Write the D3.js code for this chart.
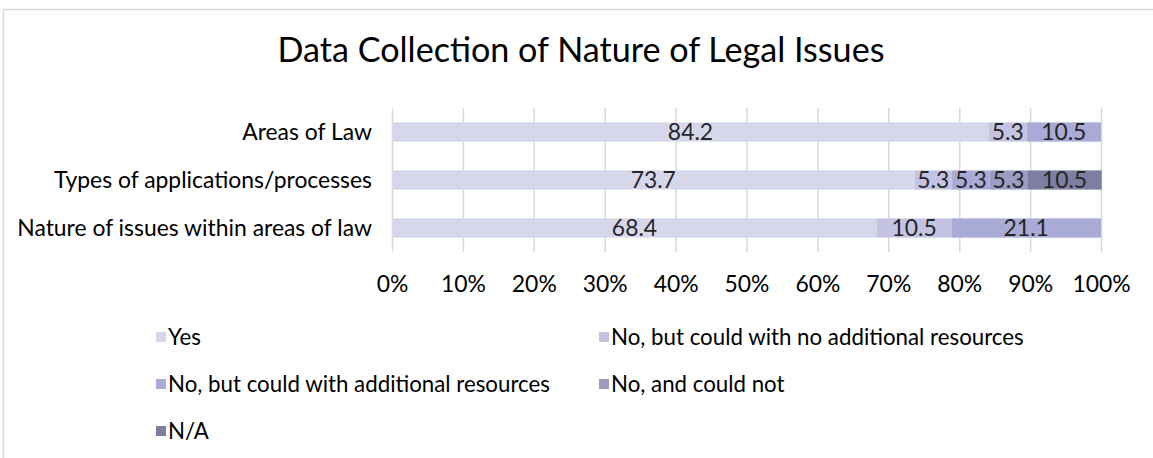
<!DOCTYPE html>
<html><head><meta charset="utf-8">
<script src="https://cdn.jsdelivr.net/npm/d3@7/dist/d3.min.js"></script>
<style>body{margin:0;background:#fff}svg{display:block}text{font-family:Lato,"Open Sans",sans-serif}</style>
</head><body><svg id="c" width="1153" height="458"></svg>
<script>
const title = "Data Collection of Nature of Legal Issues";
const categories = ["Areas of Law","Types of applications/processes","Nature of issues within areas of law"];
const seriesNames = ["Yes","No, but could with no additional resources","No, but could with additional resources","No, and could not","N/A"];
const seriesColors = ["#d7d7eb","#c4c4e2","#aaaad6","#9b9bc4","#7e7ea0"];
const yesVals = [84.2,73.7,68.4];
const noNoAddVals = [5.3,5.3,10.5];
const noAddVals = [10.5,5.3,21.1];
const noCouldNotVals = [0,5.3,0];
const naVals = [0,10.5,0];
const tickLabels = ["0%","10%","20%","30%","40%","50%","60%","70%","80%","90%","100%"];

const seriesVals = [yesVals,noNoAddVals,noAddVals,noCouldNotVals,naVals];
const svg = d3.select("#c");

// frame
svg.append("rect").attr("x",3.5).attr("y",9.5).attr("width",1160).attr("height",470)
  .attr("fill","#fff").attr("stroke","#d9d9d9").attr("stroke-width",1.5);

function fitSize(str, target, base){
  const t = svg.append("text").attr("font-size",base).text(str);
  const w = t.node().getComputedTextLength(); t.remove();
  return base*target/w;
}
const titleSize = fitSize(title, 607, 26);
const labSize = fitSize(categories[2], 355, 16);
const legSize = fitSize(seriesNames[1], 413, 16);

const x = d3.scaleLinear().domain([0,100]).range([392,1101]);
const y = d3.scaleBand().domain(categories).range([108,252]).paddingInner(0.6).paddingOuter(0.3);

// title
svg.append("text").attr("x",581).attr("y",62).attr("text-anchor","middle")
  .attr("font-size",titleSize).attr("fill","#000").text(title);

// gridlines
const ticks = d3.range(0,101,10);
svg.append("g").selectAll("line").data(ticks).join("line")
  .attr("x1",d=>x(d)+0.5).attr("x2",d=>x(d)+0.5).attr("y1",108).attr("y2",252)
  .attr("stroke","#d9d9d9").attr("stroke-width",1.5);

// axis tick labels
const axis = d3.axisBottom(x).tickValues(ticks).tickFormat((d,i)=>tickLabels[i]).tickSize(0).tickPadding(0);
const ag = svg.append("g").attr("transform","translate(0,276)").call(axis);
ag.select(".domain").remove();
ag.selectAll("text").attr("font-size",labSize).attr("fill","#000").attr("font-family","Lato,'Open Sans',sans-serif");

// category labels
svg.append("g").selectAll("text").data(categories).join("text")
  .attr("x",372).attr("y",d=>y(d)+y.bandwidth()/2).attr("dy","0.35em")
  .attr("text-anchor","end").attr("font-size",labSize).attr("fill","#000").text(d=>d);

// stacked bars
const table = categories.map((c,i)=>{const o={cat:c}; seriesNames.forEach((s,j)=>o[s]=seriesVals[j][i]); return o;});
const stack = d3.stack().keys(seriesNames)(table);
stack.forEach((layer,j)=>{
  const g = svg.append("g");
  g.selectAll("rect").data(layer).join("rect")
    .attr("x",d=>x(d[0])).attr("width",d=>x(d[1])-x(d[0]))
    .attr("y",d=>y(d.data.cat)).attr("height",y.bandwidth())
    .attr("fill",seriesColors[j]);
  g.selectAll("text").data(layer.filter(d=>d[1]-d[0]>0)).join("text")
    .attr("x",d=>(x(d[0])+x(d[1]))/2).attr("y",d=>y(d.data.cat)+y.bandwidth()/2).attr("dy","0.36em")
    .attr("text-anchor","middle").attr("font-size",labSize).attr("fill","#262626")
    .text(d=>(d[1]-d[0]).toFixed(1));
});

// legend
const legPos = [[156,337],[599,337],[156,384],[599,384],[156,431]];
const lg = svg.append("g");
seriesNames.forEach((s,i)=>{
  const [lx,ly] = legPos[i];
  lg.append("rect").attr("x",lx).attr("y",ly-5).attr("width",10).attr("height",10).attr("fill",seriesColors[i]);
  lg.append("text").attr("x",lx+12).attr("y",ly).attr("dy","0.36em").attr("font-size",legSize).attr("fill","#000").text(s);
});
</script></body></html>
